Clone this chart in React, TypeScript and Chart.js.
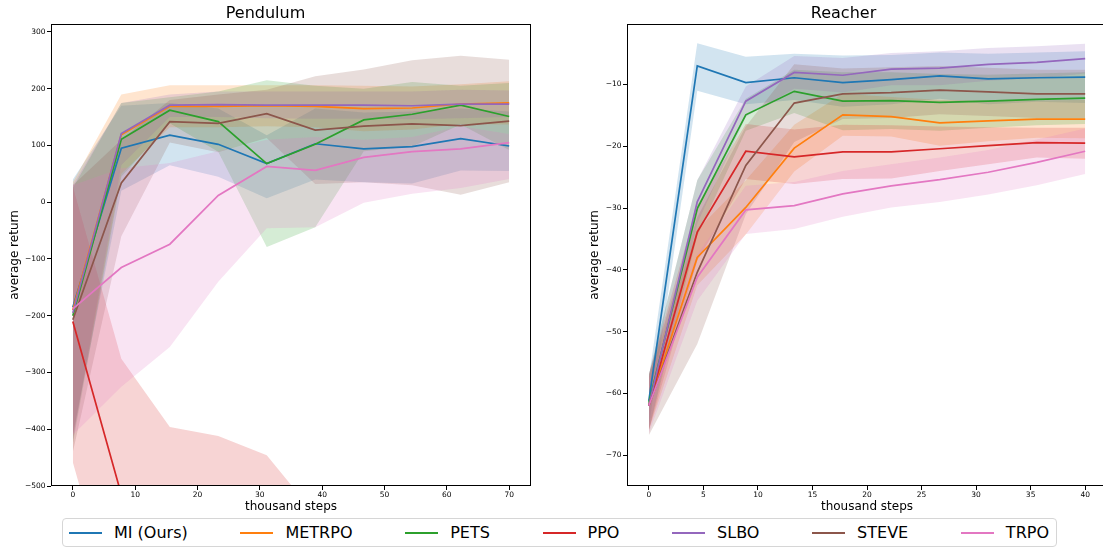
import React, { useEffect, useRef } from "react";
import { Chart, registerables } from "chart.js";

Chart.register(...registerables);

const FONT = "'DejaVu Sans', 'Liberation Sans', sans-serif";

const seriesNames = ["MI (Ours)", "METRPO", "PETS", "PPO", "SLBO", "STEVE", "TRPO"];
const seriesColors = ["#1f77b4", "#ff7f0e", "#2ca02c", "#d62728", "#9467bd", "#8c564b", "#e377c2"];

// ---------- Pendulum ----------
const pendulumSteps = [0, 7.78, 15.56, 23.33, 31.11, 38.89, 46.67, 54.44, 62.22, 70];
const pendulumXTicks = [0, 10, 20, 30, 40, 50, 60, 70];
const pendulumYTicks = [-500, -400, -300, -200, -100, 0, 100, 200, 300];

const pendulumMean = [
  [-185, 95, 118, 102, 68, 103, 94, 98, 112, 99],
  [-190, 119, 169, 169, 170, 169, 165, 166, 173, 175],
  [-200, 111, 162, 142, 68, 102, 145, 155, 171, 151],
  [-210, -515, -700, -720, -760, -800, -820, -830, -840, -850],
  [-195, 121, 171, 172, 171, 171, 171, 170, 173, 173],
  [-207, 34, 142, 139, 156, 127, 134, 138, 135, 143],
  [-188, -115, -74, 12, 63, 56, 79, 89, 94, 105],
];
const pendulumUpper = [
  [40, 170, 175, 165, 118, 165, 158, 160, 165, 160],
  [35, 190, 206, 206, 206, 206, 205, 204, 208, 213],
  [25, 175, 185, 195, 215, 205, 200, 212, 205, 210],
  [28, -276, -396, -412, -446, -550, -560, -570, -580, -590],
  [30, 175, 190, 195, 195, 195, 195, 195, 198, 197],
  [30, 110, 180, 190, 198, 222, 234, 250, 258, 251],
  [30, 60, 69, 90, 110, 115, 110, 115, 134, 120],
];
const pendulumLower = [
  [-410, 20, 65, 45, 7, 40, 35, 33, 56, 55],
  [-415, 50, 132, 132, 134, 132, 125, 128, 138, 137],
  [-425, 45, 139, 89, -79, -44, 90, 98, 137, 92],
  [-458, -760, -1000, -1030, -1080, -1080, -1100, -1110, -1120, -1130],
  [-420, 65, 150, 150, 148, 147, 147, 146, 148, 150],
  [-440, -60, 105, 88, 113, 32, 35, 30, 13, 35],
  [-410, -325, -255, -140, -46, -44, -1, 15, 25, 41],
];

// ---------- Reacher ----------
const reacherSteps = [0, 4.44, 8.89, 13.33, 17.78, 22.22, 26.67, 31.11, 35.56, 40];
const reacherXTicks = [0, 5, 10, 15, 20, 25, 30, 35, 40];
const reacherYTicks = [-70, -60, -50, -40, -30, -20, -10];

const reacherMean = [
  [-61.2, -7.0, -9.7, -8.9, -9.7, -9.2, -8.6, -9.1, -8.9, -8.8],
  [-62, -38.0, -29.9, -20.3, -14.9, -15.2, -16.2, -15.9, -15.6, -15.6],
  [-61.5, -30.1, -14.9, -11.1, -12.7, -12.6, -12.9, -12.7, -12.4, -12.2],
  [-62, -33.9, -20.8, -21.7, -20.9, -20.9, -20.4, -19.9, -19.4, -19.5],
  [-62, -29.0, -12.7, -8.05, -8.5, -7.5, -7.35, -6.75, -6.4, -5.8],
  [-62, -40.4, -23.1, -13.0, -11.5, -11.3, -10.9, -11.2, -11.5, -11.5],
  [-62, -41.2, -30.3, -29.6, -27.7, -26.4, -25.4, -24.2, -22.6, -20.8],
];
const reacherUpper = [
  [-57.5, -3.3, -5.5, -5.0, -5.3, -5.2, -4.8, -5.0, -4.8, -4.6],
  [-57.5, -33.5, -25.5, -16.5, -11.5, -12.0, -12.5, -12.6, -12.6, -12.5],
  [-57, -25.5, -12.3, -7.6, -8.0, -8.0, -8.3, -8.4, -8.2, -8.0],
  [-57, -29.5, -16.4, -17.3, -16.5, -16.6, -16.8, -16.9, -17.0, -17.0],
  [-57, -25.5, -10.3, -5.4, -5.7, -4.9, -4.6, -4.1, -3.8, -3.4],
  [-57, -31.5, -16.8, -6.7, -7.4, -7.2, -7.0, -7.3, -7.6, -7.6],
  [-57.5, -37.5, -26.4, -25.8, -24.0, -22.9, -21.8, -20.6, -18.9, -17.1],
];
const reacherLower = [
  [-65.5, -11.0, -13.2, -12.5, -13.6, -13.2, -12.3, -13.2, -12.8, -13.0],
  [-66, -42.5, -34.3, -24.1, -18.3, -18.4, -19.9, -19.2, -18.6, -18.7],
  [-66, -34.5, -17.5, -14.6, -17.4, -17.2, -17.5, -17.0, -16.6, -16.4],
  [-66, -38.5, -25.3, -26.1, -25.3, -25.2, -24.0, -22.9, -21.8, -22.0],
  [-66, -32.5, -15.2, -10.7, -11.3, -10.1, -10.1, -9.4, -9.0, -8.2],
  [-66.8, -52.0, -31.0, -19.3, -15.6, -15.4, -14.8, -15.1, -15.4, -15.4],
  [-66.5, -45.0, -34.2, -33.4, -31.4, -29.9, -29.0, -27.8, -26.3, -24.5],
];

function rgba(hex: string, a: number) {
  const n = parseInt(hex.slice(1), 16);
  return `rgba(${(n >> 16) & 255},${(n >> 8) & 255},${n & 255},${a})`;
}

const fmt = (v: number | string) => String(v).replace("-", "\u2212");

const framePlugin = {
  id: "frame",
  afterDatasetsDraw(chart: any) {
    const { ctx, chartArea } = chart;
    ctx.save();
    ctx.strokeStyle = "#000";
    ctx.lineWidth = 1;
    ctx.strokeRect(
      Math.round(chartArea.left) + 0.5,
      Math.round(chartArea.top) + 0.5,
      Math.round(chartArea.right - chartArea.left) - 1,
      Math.round(chartArea.bottom - chartArea.top) - 1
    );
    ctx.restore();
  },
};

type PanelProps = {
  title: string;
  steps: number[];
  mean: number[][];
  upper: number[][];
  lower: number[][];
  xMin: number;
  xMax: number;
  xTicks: number[];
  yMin: number;
  yMax: number;
  yTicks: number[];
  left: number;
  width: number;
  yAxisWidth: number;
  padRight: number;
  yTitlePad: number;
};

function Panel(p: PanelProps) {
  const ref = useRef<HTMLCanvasElement>(null);
  useEffect(() => {
    if (!ref.current) return;
    const datasets: any[] = [];
    p.mean.forEach((_, i) => {
      const c = seriesColors[i];
      datasets.push({
        label: seriesNames[i] + " upper",
        data: p.steps.map((x, j) => ({ x, y: p.upper[i][j] })),
        borderColor: "rgba(0,0,0,0)",
        borderWidth: 0,
        pointRadius: 0,
        backgroundColor: rgba(c, 0.2),
        fill: "+1",
        order: 100 - i,
      });
      datasets.push({
        label: seriesNames[i] + " lower",
        data: p.steps.map((x, j) => ({ x, y: p.lower[i][j] })),
        borderColor: "rgba(0,0,0,0)",
        borderWidth: 0,
        pointRadius: 0,
        fill: false,
        order: 100 - i,
      });
    });
    p.mean.forEach((m, i) => {
      datasets.push({
        label: seriesNames[i],
        data: p.steps.map((x, j) => ({ x, y: m[j] })),
        borderColor: seriesColors[i],
        borderWidth: 1.7,
        pointRadius: 0,
        fill: false,
        order: 10 - i,
      });
    });

    const tickFont = { family: FONT, size: 7.5 };
    const gridOpts = {
      display: true,
      drawOnChartArea: false,
      drawTicks: true,
      tickLength: 4,
      color: "#000",
      lineWidth: 1,
    };

    const chart = new Chart(ref.current, {
      type: "line",
      data: { datasets },
      plugins: [framePlugin],
      options: {
        responsive: false,
        animation: false,
        events: [],
        layout: { padding: { left: 0, right: p.padRight, top: 0, bottom: 0 } },
        plugins: {
          legend: { display: false },
          tooltip: { enabled: false },
          title: {
            display: true,
            text: p.title,
            color: "#000",
            font: { family: FONT, size: 16, weight: "normal", lineHeight: 1.2 },
            padding: { top: 4.5, bottom: 0.3 },
          },
        },
        scales: {
          x: {
            type: "linear",
            min: p.xMin,
            max: p.xMax,
            afterBuildTicks: (s: any) => {
              s.ticks = p.xTicks.map((v) => ({ value: v }));
            },
            afterFit: (s: any) => {
              s.height = 34;
            },
            grid: gridOpts,
            border: { display: false },
            ticks: {
              color: "#000",
              font: tickFont,
              padding: 1,
              maxRotation: 0,
              autoSkip: false,
              callback: (v: any) => fmt(v),
            },
            title: {
              display: true,
              text: "thousand steps",
              color: "#000",
              font: { family: FONT, size: 12 },
              padding: { top: 0, bottom: 6 },
            },
          },
          y: {
            type: "linear",
            min: p.yMin,
            max: p.yMax,
            afterBuildTicks: (s: any) => {
              s.ticks = p.yTicks.map((v) => ({ value: v }));
            },
            afterFit: (s: any) => {
              s.width = p.yAxisWidth;
            },
            grid: gridOpts,
            border: { display: false },
            ticks: {
              color: "#000",
              font: tickFont,
              padding: 1.5,
              autoSkip: false,
              callback: (v: any) => fmt(v),
            },
            title: {
              display: true,
              text: "average return",
              color: "#000",
              font: { family: FONT, size: 12 },
              padding: { top: p.yTitlePad, bottom: 0 },
            },
          },
        },
      } as any,
    });
    return () => chart.destroy();
  }, []);
  return (
    <canvas
      ref={ref}
      width={p.width}
      height={520}
      style={{ position: "absolute", left: p.left, top: 0, width: p.width, height: 520, display: "block" }}
    />
  );
}

function Legend() {
  return (
    <div
      style={{
        position: "absolute",
        left: 62,
        top: 518,
        width: 995,
        height: 29,
        boxSizing: "border-box",
        border: "1px solid #d6d6d6",
        borderRadius: 4,
        background: "#fff",
        display: "flex",
        alignItems: "center",
        justifyContent: "space-between",
        padding: "0 7px 0 6px",
        fontFamily: FONT,
        fontSize: 16,
        color: "#000",
        whiteSpace: "nowrap",
      }}
    >
      {seriesNames.map((n, i) => (
        <div key={n} style={{ display: "flex", alignItems: "center" }}>
          <span
            style={{
              display: "inline-block",
              width: 33,
              height: 0,
              borderTop: `2px solid ${seriesColors[i]}`,
              marginRight: 12,
            }}
          />
          <span>{n}</span>
        </div>
      ))}
    </div>
  );
}

export default function App() {
  return (
    <div
      style={{
        position: "fixed",
        left: 0,
        top: 0,
        width: 1103,
        height: 550,
        overflow: "hidden",
        background: "#fff",
      }}
    >
      <Panel
        title="Pendulum"
        steps={pendulumSteps}
        mean={pendulumMean}
        upper={pendulumUpper}
        lower={pendulumLower}
        xMin={-3.5}
        xMax={73.5}
        xTicks={pendulumXTicks}
        yMin={-500}
        yMax={314}
        yTicks={pendulumYTicks}
        left={0}
        width={545}
        yAxisWidth={51}
        padRight={14}
        yTitlePad={8}
      />
      <Panel
        title="Reacher"
        steps={reacherSteps}
        mean={reacherMean}
        upper={reacherUpper}
        lower={reacherLower}
        xMin={-2}
        xMax={42}
        xTicks={reacherXTicks}
        yMin={-75}
        yMax={-0.2}
        yTicks={reacherYTicks}
        left={580}
        width={540}
        yAxisWidth={47}
        padRight={13}
        yTitlePad={8}
      />
      <Legend />
    </div>
  );
}
